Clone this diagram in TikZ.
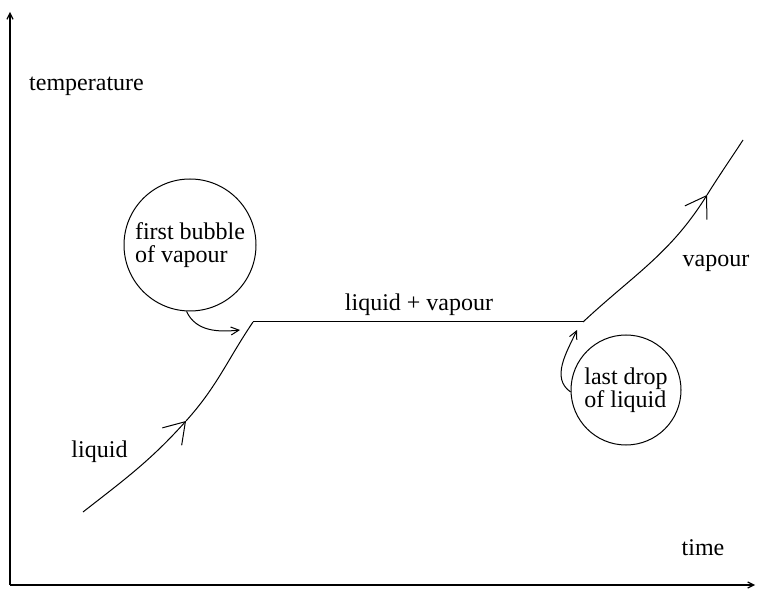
\documentclass[tikz,border=0pt]{standalone}
\usepackage{fontspec}
\setmainfont{Liberation Serif}
\usetikzlibrary{arrows.meta}

\begin{document}
\begin{tikzpicture}[
x=0.5pt, y=0.5pt,
font=\fontsize{12}{11.5}\selectfont,
curve/.style={draw, line width=0.5pt},
flow/.style={curve, -{Straight Barb[length=10pt, width=13pt]}},
hint/.style={curve, -{Straight Barb[length=4pt, width=4pt]}},
axis/.style={draw, line width=0.6pt, -{Straight Barb[length=3pt, width=3pt]}},
bubble/.style={circle, draw, line width=0.5pt, inner sep=0pt, align=left},
tag/.style={anchor=base}
]
\useasboundingbox (0,0) rectangle (759,589);

\coordinate (origin) at (10,4);
\coordinate (ytip) at (10,577);
\coordinate (xtip) at (755,4);
\coordinate (liqstart) at (83,77);
\coordinate (liqarrow) at (186,168);
\coordinate (boil) at (253,267);
\coordinate (dew) at (583,267);
\coordinate (vaparrow) at (707,394);
\coordinate (vapend) at (743,449);
\coordinate (bubblehint) at (240,259);
\coordinate (drophint) at (577,259);

\node[tag] (temperature) at (86.5,498) {temperature};
\node[tag] (time) at (703,34) {time};
\node[tag] (liquid) at (99.5,132) {liquid};
\node[tag] (vapour) at (716,322) {vapour};
\node[tag] (mixture) at (419,278) {liquid + vapour};
\node[bubble, minimum size=66pt] (first) at (190,344) {first bubble\\of vapour};
\node[bubble, minimum size=55pt] (last) at (626,199) {last drop\\of liquid};

\path[axis] (origin) -- (ytip);
\path[axis] (origin) -- (xtip);
\path[flow] (liqstart) to[out=38, in=228] (liqarrow);
\path[curve] (liqarrow) to[out=48, in=236] (boil);
\path[curve] (boil) -- (dew);
\path[flow] (dew) to[out=43, in=238] (vaparrow);
\path[curve] (vaparrow) to[out=58, in=237] (vapend);
\path[hint] (first.267) to[out=-65, in=186] (bubblehint);
\path[hint] (last.182) to[out=145, in=245] (drophint);
\end{tikzpicture}
\end{document}
